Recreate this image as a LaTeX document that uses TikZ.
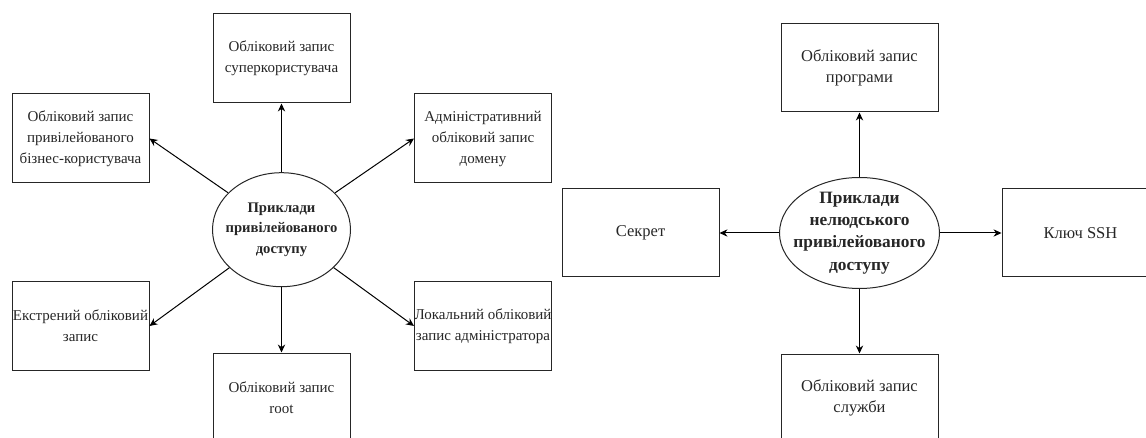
\documentclass[tikz,border=0pt]{standalone}
\usepackage{fontspec}
\setmainfont{Liberation Serif}
\usetikzlibrary{arrows.meta,shapes.geometric}
\begin{document}
\begin{tikzpicture}[x=0.75pt,y=-0.75pt,
  txt/.style={font=\fontsize{11.25pt}{15.75pt}\selectfont, text=black!85},
  box/.style={txt, draw=black!85, line width=0.75pt, rectangle, inner sep=0pt,
    minimum width=102.75pt, minimum height=66.75pt, align=center},
  wbox/.style={box, font=\fontsize{12.4pt}{16.1pt}\selectfont,
    minimum width=117.75pt, minimum height=66pt},
  hub/.style={draw=black!85, line width=0.75pt, ellipse, inner sep=0pt},
  hubtext/.style={text=black!85, align=center, inner sep=0pt},
  link/.style={line width=0.75pt, draw=black, -{Stealth[length=6pt,width=5.5pt]}}
]
\useasboundingbox (0,0) rectangle (1146,438);

% ---- privileged access: hub and its six account types ----
\node[hub, minimum width=103.5pt, minimum height=85.5pt,
  label={[hubtext, font=\fontsize{11pt}{15.6pt}\selectfont\bfseries]center:{Приклади\\привілейованого\\доступу}}] (h1) at (281.5,229.7) {};
\node[box] (ltop) at (281.5,58.5) {Обліковий запис\\суперкористувача};
\node[box] (lul)  at (80.5,138.5) {Обліковий запис\\привілейованого\\бізнес-користувача};
\node[box] (lur)  at (483,138.5)  {Адміністративний\\обліковий запис\\домену};
\node[box] (lll)  at (80.5,326)   {Екстрений обліковий\\запис};
\node[box] (llr)  at (483,326)    {Локальний обліковий\\запис адміністратора};
\node[box] (lbot) at (281.5,397.5) {Обліковий запис\\root};

\draw[link] (h1) -- (ltop);
\draw[link] (h1) -- (lul.east);
\draw[link] (h1) -- (lur.west);
\draw[link] (h1) -- (lll.east);
\draw[link] (h1) -- (llr.west);
\draw[link] (h1) -- (lbot);

% ---- non-human privileged access: hub and its four kinds ----
\node[hub, minimum width=120pt, minimum height=83.25pt,
  label={[hubtext, font=\fontsize{13pt}{16.6pt}\selectfont\bfseries]center:{Приклади\\нелюдського\\привілейованого\\доступу}}] (h2) at (859.5,233) {};
\node[wbox] (rtop) at (859.5,68)  {Обліковий запис\\програми};
\node[wbox] (rl)   at (640.5,233) {Секрет};
\node[wbox] (rr)   at (1080.5,233) {Ключ SSH};
\node[wbox] (rbot) at (859.5,398) {Обліковий запис\\служби};

\draw[link] (h2) -- (rtop);
\draw[link] (h2) -- (rl);
\draw[link] (h2) -- (rr);
\draw[link] (h2) -- (rbot);
\end{tikzpicture}
\end{document}
